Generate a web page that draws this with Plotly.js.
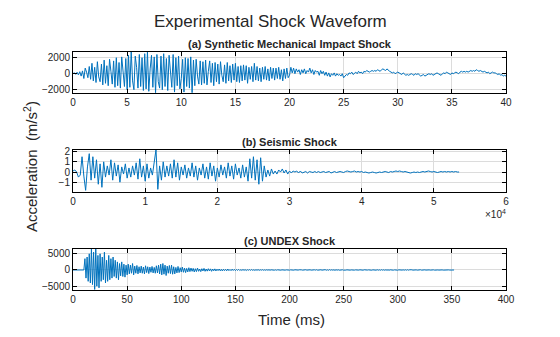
<!DOCTYPE html>
<html>
<head>
<meta charset="utf-8">
<script src="https://cdn.plot.ly/plotly-3.0.1.min.js"></script>
<style>html,body{margin:0;padding:0;background:#fff;}#chart{width:560px;height:337px;}</style>
</head>
<body>
<div id="chart"></div>
<script>
// ---- Data ----
// (a) Synthetic mechanical impact shock: sample interval 0.125, t = 0..40
const impactDt = 0.125;
const impactAccel = [
0,120,-80,180,-150,250,-300,350,
-600,700,200,-500,900,-700,1300,-900,
800,-1100,1500,-400,-1000,1200,-1400,1700,
-1200,1000,-1500,1800,300,-1300,1600,-1700,
2000,-1500,1400,-1800,2100,600,-1600,1900,
-2000,2300,-1700,2800,-900,-2000,2200,800,
-1800,2400,-1600,2000,-2100,2500,-1900,2800,
-2200,600,2300,-1700,2100,-2400,2400,-1000,
-1800,2200,-2000,2500,-1600,1900,-2100,2300,
400,-1700,2400,-2300,2000,-1500,2200,-1900,
-600,1800,-2300,2000,-1600,1900,-1800,2100,
-2400,1700,-1500,1800,-300,-1300,1600,-1400,
1500,-1200,1700,-1400,300,1600,-1100,1300,
-1500,1400,-1000,1200,-1300,1500,-200,-1000,
1100,-1200,1400,-900,1000,-1100,1200,-800,
1300,-1000,900,-1100,1000,-900,1100,-800,
1000,-1200,800,-700,900,-1000,1300,-800,
900,-900,700,-1000,800,-700,900,-800,
600,-900,800,-600,700,-800,700,-600,
800,-700,500,-900,600,-600,700,-500,
-200,800,100,700,0,600,200,500,
-100,500,100,600,0,400,200,700,
100,500,-100,400,200,300,-200,400,
0,300,-200,200,-300,100,-400,0,
-200,100,-300,0,-200,-100,-300,0,
-500,-300,-100,-200,100,0,200,-100,
100,200,0,300,100,200,0,300,
200,400,300,200,300,400,300,400,
300,500,400,300,500,600,500,400,
600,400,300,200,100,200,0,100,
200,100,0,-100,100,0,-200,-100,
-200,-100,0,-100,-200,0,-100,0,
-200,-300,-200,-100,-300,-200,-100,0,
-100,0,-200,-100,0,100,0,-100,
-200,0,100,0,200,100,0,-100,
100,0,100,200,100,0,200,300,
200,300,200,300,200,300,400,300,
400,300,500,400,300,400,300,200,
300,200,100,200,0,100,200,100,
100,0,-100,0,-200,-100,-300,-200,
-300
];

// (b) Seismic shock: sample interval 250, t = 0..53500
const seismicDt = 250;
const seismicAccel = [
0.1,0.2,0.0,-0.5,-0.3,1.5,-0.4,-1.8,
0.5,1.8,-0.8,1.5,-0.6,1.2,-1.2,0.8,
-1.5,1.0,-0.5,0.6,-0.3,1.2,-0.8,0.9,
-0.4,0.7,-1.0,0.5,-0.2,0.8,-0.6,0.4,
-0.5,0.6,-0.3,0.9,-0.7,1.3,-0.5,0.6,
-0.9,0.8,-0.6,0.4,-0.3,1.2,2.2,-1.7,
0.6,-0.8,1.0,-0.5,0.6,-0.4,0.8,-0.6,
1.2,-0.5,0.9,-0.8,0.5,-0.3,0.7,-0.6,
0.4,-0.4,0.9,-0.5,0.6,-0.8,0.4,-0.3,
0.8,-0.6,0.5,-0.7,0.9,-0.4,0.6,-0.9,
0.4,-0.5,0.7,-0.3,0.5,-0.6,0.9,-0.4,
0.6,-0.7,0.8,-0.3,0.4,-0.6,0.7,-0.5,
0.5,-0.9,1.3,-0.6,1.5,-0.8,1.2,-1.2,
1.4,-0.9,0.6,-0.5,0.2,-0.4,0.3,-0.2,
0.1,-0.2,0.2,0.0,0.3,-0.1,0.2,-0.2,
0.1,-0.1,0.1,0.0,0.1,-0.1,0.1,-0.1,
0.0,0.05,-0.1,0.05,0.0,-0.05,0.05,-0.05,
0.05,-0.05,0.0,0.05,-0.05,0.0,0.05,-0.1,
0.0,0.05,-0.05,0.0,0.05,0.0,-0.05,0.05,
0.1,0.05,0.0,0.05,0.1,0.0,0.05,0.0,
0.05,-0.05,0.0,-0.05,-0.1,-0.05,0.0,-0.05,
-0.1,-0.05,0.0,-0.05,0.0,0.05,0.0,-0.05,
0.05,0.0,0.05,0.1,0.05,0.1,0.05,0.0,
0.05,0.0,-0.05,-0.1,-0.05,0.0,-0.05,0.0,
-0.05,0.0,0.05,0.0,0.05,0.1,0.05,0.0,
0.05,0.0,-0.05,0.0,0.05,0.0,0.05,0.0,
0.05,0.0,0.05,0.0,0.05,0.0,0.0
];

// (c) UNDEX shock: sample interval 1 ms, t = 0..352 ms
const undexDt = 1;
const undexAccel = [
0,0,0,0,0,0,0,0,0,0,0,
3500,-2500,4000,-3500,5000,-4000,6500,-4500,5500,-6000,6500,-5000,4500,-5500,5000,
-3500,4000,-3000,5500,-4000,3000,-3500,4500,-3000,3500,
-2500,4000,-2000,3000,-2500,2500,-3000,2000,-1800,2500,-2000,1800,-2200,1500,-1500,
1800,-1200,1500,-1000,2000,-1500,1200,-1000,1400,-1200,1000,-900,1200,-1000,900,
-1200,1300,-800,1000,-1100,900,-700,1100,-900,800,-1000,1300,-900,1500,-1200,
1800,-1500,2000,-1300,1500,-1700,1200,-1000,1400,-1100,1500,-1300,1000,-1200,800,
-900,1100,-800,700,-600,900,-700,600,-800,500,-600,700,-500,600,-400,
500,-600,400,-500,600,-400,300,-500,400,-300,500,-400,300,-350,400,
-300,350,-400,300,-250,350,-300,250,-200,300,-250,200,-300,250,-200,
200,-250,300,-200,150,-200,250,-150,200,-180,150,-120,180,-150,100,
-120,150,-100,120,-150,100,-80,120,-100,150,-100,80,-120,100,-80,
120,-100,80,-60,100,-80,60,-80,100,-60,80,-70,60,-50,80,
-60,50,-70,60,-50,40,-60,50,-40,60,-50,40,-30,50,-40,
40,-60,30,-50,70,-40,50,-30,
60,-70,40,-50,30,-60,80,-40,
50,-30,60,-50,40,-70,60,-40,
90,-60,50,-80,70,-50,40,-60,
100,-80,60,-90,120,-70,80,-60,
70,-100,90,-60,80,-70,50,-60,
60,-50,70,-40,50,-60,40,-50,
30,-40,60,-50,40,-30,50,-40,
60,-50,40,-60,70,-40,50,-30,
40,-50,60,-70,50,-40,80,-60,
90,-70,60,-80,100,-60,70,-90,
80,-60,50,-70,60,-40,50,-60,
40,-50,70,-60,50,-40,60,-30,
50,-60,80,-70,90,-60,70,-50,
60,-40,50,-60,40,-50,60,-40,
70,-50,40,-60,50,-30,40,-50,
30,-40,50,-30,40,-50,30,-40,
20,-30,40,-20,30,-40,20,-30,
20,-20,30,-20,10,-20,10,0
];

const subplotTitles = ['(a) Synthetic Mechanical Impact Shock', '(b) Seismic Shock', '(c) UNDEX Shock'];
const impactTicks = [0,5,10,15,20,25,30,35,40];
const seismicTicks = [0,10000,20000,30000,40000,50000,60000];
const seismicTickText = ['0','1','2','3','4','5','6'];
const undexTicks = [0,50,100,150,200,250,300,350,400];

// ---- Build ----
const timeOf = (vals, dt) => vals.map((_, i) => i * dt);
const LINE = {color: '#0072BD', width: 1};
const F = 'Liberation Sans, Arial, Helvetica, sans-serif';

const traces = [
  {x: timeOf(impactAccel, impactDt), y: impactAccel, xaxis: 'x', yaxis: 'y', type: 'scatter', mode: 'lines', line: LINE, hoverinfo: 'skip'},
  {x: timeOf(seismicAccel, seismicDt), y: seismicAccel, xaxis: 'x2', yaxis: 'y2', type: 'scatter', mode: 'lines', line: LINE, hoverinfo: 'skip'},
  {x: timeOf(undexAccel, undexDt), y: undexAccel, xaxis: 'x3', yaxis: 'y3', type: 'scatter', mode: 'lines', line: LINE, hoverinfo: 'skip'}
];

const base = {
  showline: true, linecolor: '#000', linewidth: 1, mirror: 'ticks',
  ticks: 'inside', ticklen: 4, tickcolor: '#000', tickwidth: 1,
  showgrid: true, gridcolor: '#dcdcdc', gridwidth: 1, zeroline: false,
  tickfont: {family: F, size: 10, color: '#262626'}, fixedrange: true
};
const XD = [0.1304, 0.9036];

const layout = {
  width: 560, height: 337,
  margin: {l: 0, r: 0, t: 0, b: 0},
  paper_bgcolor: '#fff', plot_bgcolor: '#fff',
  showlegend: false,
  xaxis:  Object.assign({}, base, {domain: XD, anchor: 'y',  range: [0, 40], tickvals: impactTicks}),
  yaxis:  Object.assign({}, base, {domain: [0.7249, 0.8466], anchor: 'x',  range: [-2375, 2750], tickvals: [-2000, 0, 2000]}),
  xaxis2: Object.assign({}, base, {domain: XD, anchor: 'y2', range: [0, 60000], tickvals: seismicTicks, ticktext: seismicTickText}),
  yaxis2: Object.assign({}, base, {domain: [0.4312, 0.5549], anchor: 'x2', range: [-1.93, 2.16], tickvals: [-1, 0, 1, 2]}),
  xaxis3: Object.assign({}, base, {domain: XD, anchor: 'y3', range: [0, 400], tickvals: undexTicks}),
  yaxis3: Object.assign({}, base, {domain: [0.1395, 0.2611], anchor: 'x3', range: [-6170, 6480], tickvals: [-5000, 0, 5000]}),
  annotations: [
    {text: 'Experimental Shock Waveform', xref: 'paper', yref: 'paper', x: 270/560, y: 1 - 21/337, xanchor: 'center', yanchor: 'middle', showarrow: false, font: {family: F, size: 17, color: '#262626'}},
    {text: '<b>' + subplotTitles[0] + '</b>', xref: 'paper', yref: 'paper', x: 289.5/560, y: 1 - 44/337, xanchor: 'center', yanchor: 'middle', showarrow: false, font: {family: F, size: 11, color: '#262626'}},
    {text: '<b>' + subplotTitles[1] + '</b>', xref: 'paper', yref: 'paper', x: 289.5/560, y: 1 - 142/337, xanchor: 'center', yanchor: 'middle', showarrow: false, font: {family: F, size: 11, color: '#262626'}},
    {text: '<b>' + subplotTitles[2] + '</b>', xref: 'paper', yref: 'paper', x: 289.5/560, y: 1 - 241/337, xanchor: 'center', yanchor: 'middle', showarrow: false, font: {family: F, size: 11, color: '#262626'}},
    {text: 'Acceleration  (m/s<sup>2</sup>)', xref: 'paper', yref: 'paper', x: 30/560, y: 1 - 167/337, xanchor: 'center', yanchor: 'middle', textangle: -90, showarrow: false, font: {family: F, size: 15, color: '#262626'}},
    {text: 'Time (ms)', xref: 'paper', yref: 'paper', x: 291/560, y: 1 - 319/337, xanchor: 'center', yanchor: 'middle', showarrow: false, font: {family: F, size: 15, color: '#262626'}},
    {text: '\u00d710<sup>4</sup>', xref: 'paper', yref: 'paper', x: 508/560, y: 1 - 214/337, xanchor: 'right', yanchor: 'middle', showarrow: false, font: {family: F, size: 10, color: '#262626'}}
  ]
};

Plotly.newPlot('chart', traces, layout, {staticPlot: true, displayModeBar: false});
</script>
</body>
</html>
